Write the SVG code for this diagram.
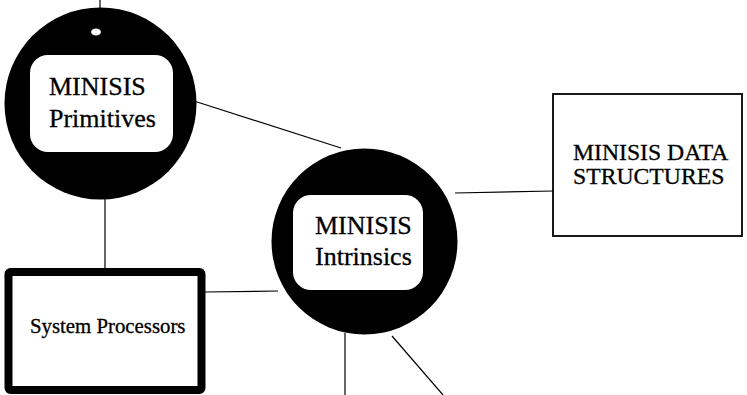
<svg xmlns="http://www.w3.org/2000/svg" width="747" height="395" viewBox="0 0 747 395">
<style>
.bg{fill:#fff}
.disc{fill:#000}
.inner{fill:#fff}
.t{font-family:"Liberation Serif","Times New Roman",serif;fill:#000;stroke:#000;stroke-width:0.3}
.conn line{stroke:#000;stroke-width:1.2;fill:none}
.box{fill:#fff;stroke:#000}
</style>
<rect class="bg" x="0" y="0" width="747" height="395"/>
<g id="connectors" class="conn">
<line x1="100" y1="0" x2="100" y2="10"/>
<line x1="194" y1="101" x2="341" y2="148"/>
<line x1="105" y1="198" x2="105" y2="268"/>
<line x1="205" y1="292" x2="278" y2="291"/>
<line x1="455" y1="193" x2="553" y2="191"/>
<line x1="345" y1="333" x2="345" y2="395"/>
<line x1="392" y1="336" x2="443" y2="395"/>
</g>
<g id="primitives">
<circle class="disc" cx="100.5" cy="103.5" r="96"/>
<ellipse cx="96" cy="32" rx="5" ry="3.5" fill="#fff"/>
<rect class="inner" x="30" y="55" width="143" height="97" rx="18"/>
<text class="t" x="49" y="95" font-size="26">MINISIS</text>
<text class="t" x="49" y="127" font-size="26">Primitives</text>
</g>
<g id="intrinsics">
<circle class="disc" cx="364.5" cy="241.5" r="93"/>
<rect class="inner" x="293" y="195" width="130" height="95" rx="18"/>
<text class="t" x="315" y="234" font-size="26">MINISIS</text>
<text class="t" x="315" y="265" font-size="26">Intrinsics</text>
</g>
<g id="data-structures">
<rect class="box" x="553" y="94" width="189" height="142" stroke-width="1.8"/>
<text class="t" x="573" y="160" font-size="23.7">MINISIS DATA</text>
<text class="t" x="573" y="184" font-size="23.7">STRUCTURES</text>
</g>
<g id="system-processors">
<rect class="box" x="8.5" y="272" width="193" height="118" rx="2" stroke-width="8"/>
<text class="t" x="30" y="333" font-size="20.8">System Processors</text>
</g>
</svg>
